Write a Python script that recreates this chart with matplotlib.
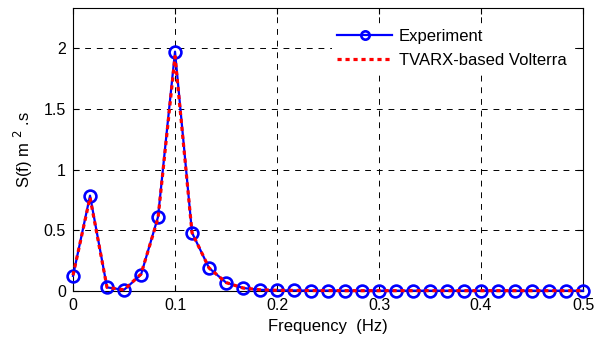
import numpy as np
import matplotlib.pyplot as plt

plt.rcParams['font.family'] = ['Liberation Sans', 'DejaVu Sans']

freq = np.arange(31) / 60.0
experiment = [0.125, 0.785, 0.03, 0.01, 0.135, 0.61, 1.97, 0.48, 0.19, 0.07,
              0.025, 0.01, 0.006, 0.005, 0.004, 0.004, 0.003, 0.003, 0.003, 0.003,
              0.003, 0.003, 0.003, 0.003, 0.003, 0.003, 0.003, 0.003, 0.003, 0.003,
              0.003]
volterra = [0.13, 0.77, 0.03, 0.01, 0.14, 0.6, 1.93, 0.48, 0.19, 0.07,
            0.025, 0.01, 0.006, 0.005, 0.004, 0.004, 0.003, 0.003, 0.003, 0.003,
            0.003, 0.003, 0.003, 0.003, 0.003, 0.003, 0.003, 0.003, 0.003, 0.003,
            0.003]

fig = plt.figure(figsize=(6, 3.42), dpi=100)
ax = fig.add_axes([0.1217, 0.149, 0.85, 0.828])

ax.plot(freq, experiment, '-o', color='b', lw=1.6, ms=8.5, mfc='none', mew=1.9,
        label='Experiment', clip_on=False, zorder=3)
ax.plot(freq, volterra, color='r', lw=2.3, ls=(0, (1.3, 1.2)),
        label='TVARX-based Volterra', clip_on=False, zorder=4)

ax.set_xlim(0, 0.5)
ax.set_ylim(0, 2.33)
ax.set_xticks([0, 0.1, 0.2, 0.3, 0.4, 0.5])
ax.set_xticklabels(['0', '0.1', '0.2', '0.3', '0.4', '0.5'])
ax.set_yticks([0, 0.5, 1, 1.5, 2])
ax.set_yticklabels(['0', '0.5', '1', '1.5', '2'])
ax.grid(True, color='k', ls=(0, (6, 6)), lw=0.7)
ax.tick_params(direction='in', labelsize=11.5, length=4, top=True, right=True, pad=5)
for s in ax.spines.values():
    s.set_linewidth(0.8)

ax.set_xlabel('Frequency  (Hz)', fontsize=12, labelpad=4)
ax.set_ylabel('S(f) m $^2$ .s', fontsize=12, labelpad=6)

leg = ax.legend(loc='upper right', bbox_to_anchor=(0.984, 0.954), frameon=True,
                fontsize=12, handlelength=3.3, handletextpad=0.4, labelspacing=0.5,
                borderaxespad=0.2, borderpad=0.3, fancybox=False)
leg.get_frame().set_edgecolor('none')
leg.get_frame().set_alpha(1)
leg.legend_handles[0].set_markersize(6)

fig.savefig('out.png', dpi=100)
